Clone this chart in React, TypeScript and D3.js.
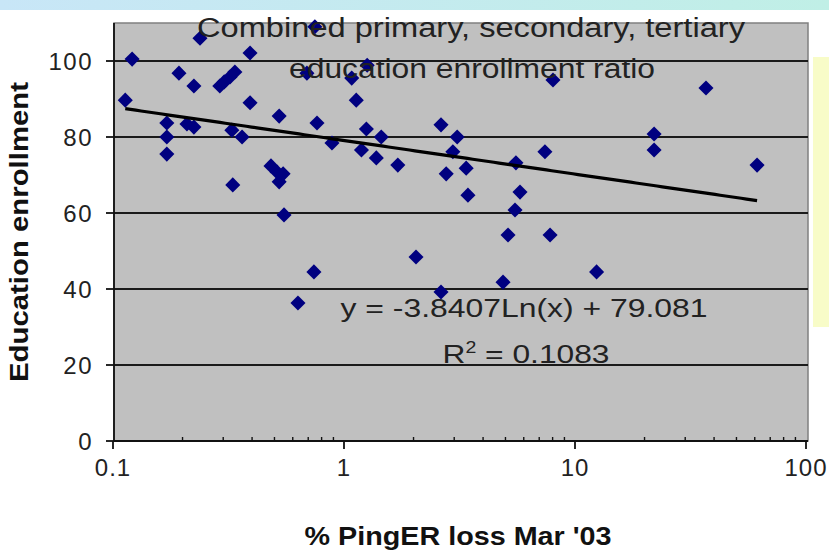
import React from 'react';
import * as d3 from 'd3';

// % PingER loss Mar '03 (x) vs combined education enrollment ratio (y)
const lossPct = [
  0.113, 0.121, 0.238, 0.193, 0.224, 0.171, 0.171, 0.171, 0.209, 0.224,
  0.29, 0.303, 0.321, 0.337, 0.392, 0.392, 0.327, 0.362, 0.33, 0.524,
  0.483, 0.513, 0.545, 0.524, 0.55, 0.748, 0.691, 0.764, 0.887, 0.741,
  0.632, 1.08, 1.13, 1.26, 1.25, 1.19, 1.38, 1.45, 1.71, 2.05,
  2.63, 2.77, 3.09, 2.96, 3.38, 3.44, 2.63, 4.88, 5.13, 5.55,
  5.5, 5.78, 7.41, 8.03, 7.8, 12.4, 22.0, 22.0, 36.9, 61.4,
];
const enrollment = [
  89.7, 100.5, 106, 96.8, 93.4, 83.7, 80, 75.5, 83.4, 82.6,
  93.4, 94.5, 95.8, 97.1, 102.1, 89, 81.8, 80, 67.4, 85.5,
  72.4, 70.8, 70.3, 68.2, 59.5, 109, 96.8, 83.7, 78.4, 44.5,
  36.3, 95.5, 89.7, 98.9, 82.1, 76.6, 74.5, 80, 72.6, 48.4,
  83.2, 70.3, 80, 76.1, 71.8, 64.7, 39.2, 41.8, 54.2, 73.2,
  60.8, 65.5, 76.1, 95, 54.2, 44.5, 80.8, 76.6, 92.9, 72.6,
];

const yTicks = [0, 20, 40, 60, 80, 100];
const xTicks = [0.1, 1, 10, 100];
const trendSlope = -3.8407;
const trendIntercept = 79.081;
const titleLines = ['Combined primary, secondary, tertiary', 'education enrollment ratio'];

const W = 829;
const H = 552;
const textFont = '"Liberation Sans", Arial, sans-serif';

export default function App() {
  const x = d3.scaleLog().domain([0.1, 100]).range([113, 806]);
  const y = d3.scaleLinear().domain([0, 110]).range([441, 23]);

  const minorTicks: number[] = [];
  [0.1, 1, 10].forEach(d => {
    for (let k = 2; k <= 9; k++) minorTicks.push(d * k);
  });

  const [xMin, xMax] = d3.extent(lossPct) as [number, number];
  const trendX = d3.range(0, 121).map(i => xMin * Math.pow(xMax / xMin, i / 120));
  const trendLine = d3.line<number>()
    .x(d => x(d))
    .y(d => y(trendSlope * Math.log(d) + trendIntercept));

  const diamond = d3.symbol().type(d3.symbolDiamond2).size(145)();

  const left = 114, right = 808, top = y(110), bottom = y(0);

  return (
    <svg width={W} height={H} style={{ position: 'absolute', left: 0, top: 0 }}>
      <defs>
        <linearGradient id="band" x1="0" x2="1" y1="0" y2="0">
          <stop offset="0" stopColor="#c8e6f7" />
          <stop offset="1" stopColor="#c0efe6" />
        </linearGradient>
      </defs>
      <rect x={0} y={0} width={W} height={H} fill="#ffffff" />
      <rect x={0} y={0} width={W} height={10} fill="url(#band)" />
      <rect x={813} y={57} width={16} height={270} fill="#f8fcc8" />

      {/* plot area */}
      <rect x={left} y={top} width={right - left} height={bottom - top} fill="#c0c0c0" stroke="#808080" strokeWidth={1.5} />

      {yTicks.filter(t => t > 0).map(t => (
        <line key={t} x1={left} x2={right} y1={y(t)} y2={y(t)} stroke="#1a1a1a" strokeWidth={2} />
      ))}

      {/* axes */}
      <line x1={left} x2={left} y1={top} y2={bottom} stroke="#111" strokeWidth={1.8} />
      <line x1={left} x2={right} y1={bottom} y2={bottom} stroke="#111" strokeWidth={1.8} />
      {yTicks.map(t => (
        <g key={t}>
          <line x1={106} x2={left} y1={y(t)} y2={y(t)} stroke="#111" strokeWidth={1.8} />
          <text x={93} y={y(t)} dy="0.36em" textAnchor="end" fontFamily={textFont} fontSize={24} letterSpacing={1.5} fill="#222">{t}</text>
        </g>
      ))}
      {xTicks.map(t => (
        <g key={t}>
          <line x1={x(t)} x2={x(t)} y1={bottom} y2={bottom + 8} stroke="#111" strokeWidth={1.8} />
          <text x={x(t)} y={476} textAnchor="middle" fontFamily={textFont} fontSize={24} letterSpacing={1} fill="#222">{t}</text>
        </g>
      ))}
      {minorTicks.map(t => (
        <line key={t} x1={x(t)} x2={x(t)} y1={bottom - 4} y2={bottom} stroke="#111" strokeWidth={1.4} />
      ))}

      {/* points */}
      {lossPct.map((v, i) => (
        <path key={i} d={diamond ?? ''} transform={`translate(${x(v)},${y(enrollment[i])})`} fill="#000080" />
      ))}

      <path d={trendLine(trendX) ?? ''} fill="none" stroke="#000" strokeWidth={3.2} />

      {/* titles */}
      <text x={471} y={37} textAnchor="middle" fontFamily={textFont} fontSize={27} fill="#222" textLength={548} lengthAdjust="spacingAndGlyphs">{titleLines[0]}</text>
      <text x={472} y={78} textAnchor="middle" fontFamily={textFont} fontSize={27} fill="#222" textLength={366} lengthAdjust="spacingAndGlyphs">{titleLines[1]}</text>

      <text x={524} y={317} textAnchor="middle" fontFamily={textFont} fontSize={26} fill="#222" textLength={367} lengthAdjust="spacingAndGlyphs">
        y = -3.8407Ln(x) + 79.081
      </text>
      <text x={526} y={363} textAnchor="middle" fontFamily={textFont} fontSize={26} fill="#222" textLength={167} lengthAdjust="spacingAndGlyphs">
        R<tspan dy={-10} fontSize={16}>2</tspan><tspan dy={10}> = 0.1083</tspan>
      </text>

      <text x={458} y={545} textAnchor="middle" fontFamily={textFont} fontSize={25} fontWeight="bold" fill="#111" textLength={307} lengthAdjust="spacingAndGlyphs">
        % PingER loss Mar '03
      </text>
      <text transform="translate(28,232) rotate(-90)" textAnchor="middle" fontFamily={textFont} fontSize={25} fontWeight="bold" fill="#111" textLength={300} lengthAdjust="spacingAndGlyphs">
        Education enrollment
      </text>
    </svg>
  );
}
